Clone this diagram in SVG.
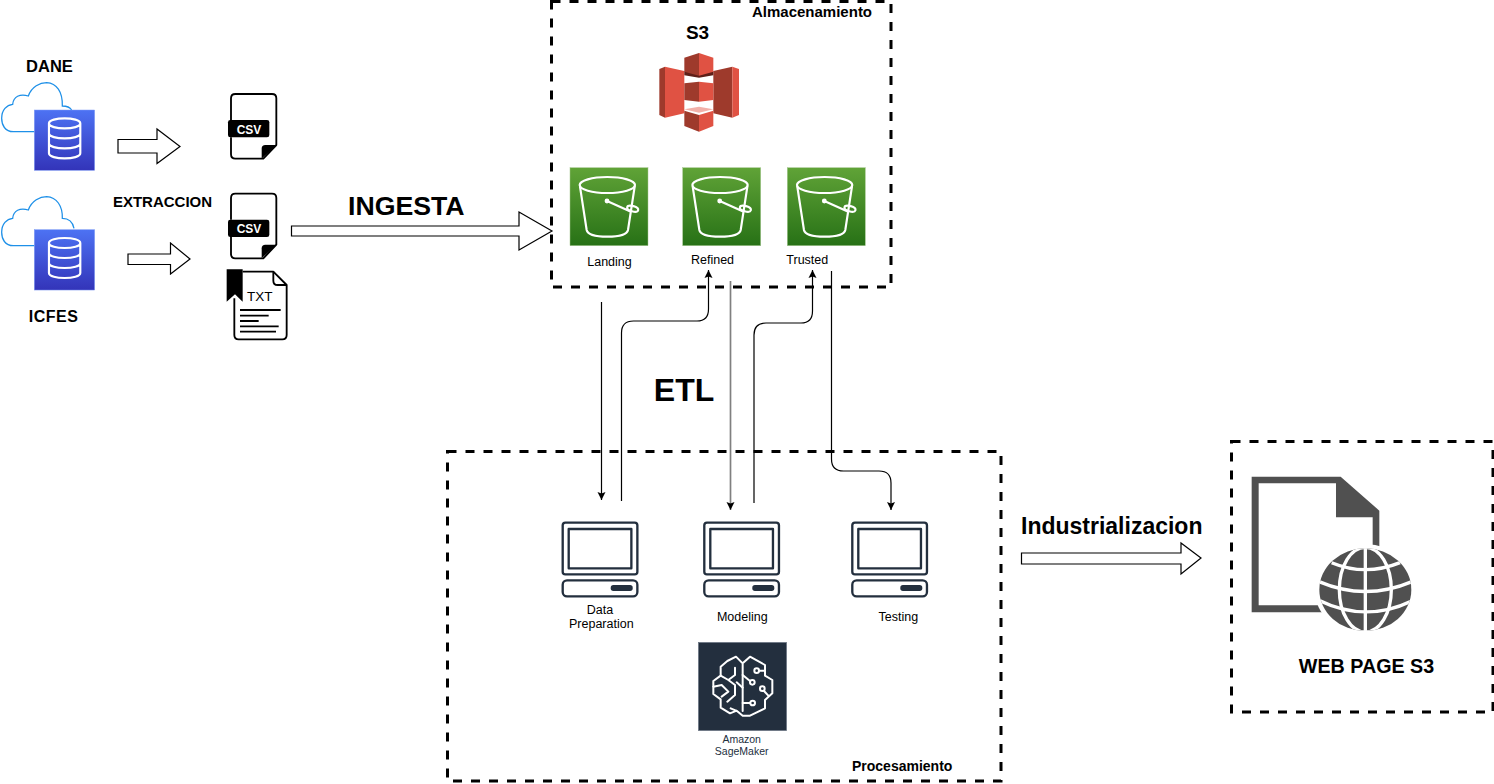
<svg xmlns="http://www.w3.org/2000/svg" width="1494" height="784" viewBox="0 0 1494 784">
<style>
text{font-family:"Liberation Sans",Arial,sans-serif;fill:#000}
.b{font-weight:bold}
.m{text-anchor:middle}
.box{fill:none;stroke:#000;stroke-width:3;stroke-dasharray:9 9}
.block{fill:#fff;stroke:#000;stroke-width:1.2}
.wire{fill:none;stroke:#000;stroke-width:1.2;marker-end:url(#ah)}
.pc{fill:none;stroke:#232F3E;stroke-width:7;stroke-linejoin:round}
.w{fill:none;stroke:#fff;stroke-width:6.500;stroke-linejoin:round;stroke-linecap:round}
.k{fill:none;stroke:#000;stroke-width:5.500;stroke-linejoin:round}
.br{fill:none;stroke:#fff;stroke-width:6;stroke-linejoin:round;stroke-linecap:round}
.cl{fill:none;stroke:#1E90E8;stroke-width:3.800}
.d{fill:#9E3A2C}.l{fill:#E05243}
.gl{fill:none;stroke:#fff;stroke-width:10}
.lbl{font-size:12.500px}
</style>
<defs>
<linearGradient id="gb" x1="0" y1="0" x2="0" y2="1"><stop offset="0" stop-color="#4D72F3"/><stop offset="1" stop-color="#3334B9"/></linearGradient>
<linearGradient id="gg" x1="0" y1="0" x2="0" y2="1"><stop offset="0" stop-color="#60A337"/><stop offset="1" stop-color="#277116"/></linearGradient>
<marker id="ah" markerUnits="userSpaceOnUse" markerWidth="10" markerHeight="10" viewBox="0 0 10 10" refX="8" refY="5" orient="auto"><path d="M0 1L8 5L0 9L1.500 5Z" fill="#000"/></marker>
<g id="tile-db" transform="scale(.33333)">
<rect x="0" y="0" width="181" height="181" fill="url(#gb)" stroke="#7f9cf5" stroke-width="1.500"/>
<path class="w" d="M44 40V130C44 150 138 150 138 130V40M44 40C44 20 138 20 138 40C138 60 44 60 44 40ZM44 70C44 90 138 90 138 70M44 100C44 120 138 120 138 100"/>
</g>
<g id="csv" transform="scale(.33333)">
<path class="k" d="M693 210V145Q693 132 706 132H816Q829 132 829 145V285L790 326H706Q693 326 693 313V262"/>
<path d="M785 326V296Q785 285 796 285H829Z" fill="#000"/>
<rect x="684" y="210" width="124" height="52" rx="7" fill="#000"/>
</g>
<g id="bucket" transform="scale(.33333) translate(-60,-503)">
<rect x="60" y="503" width="234" height="234" fill="url(#gg)" stroke="#a5c78f" stroke-width="1.500"/>
<g class="w"><ellipse cx="172" cy="555" rx="83" ry="24"/>
<path d="M90 560L110 690Q114 710 172 710Q230 710 234 690L254 560M171 603L238 633"/>
<ellipse cx="248" cy="626" rx="17" ry="8" transform="rotate(15 248 626)"/>
<circle cx="171" cy="603" r="4"/></g>
</g>
<g id="pc" transform="scale(.33333) translate(-65,-65)">
<rect class="pc" x="68" y="68" width="224" height="155" rx="8"/>
<rect class="pc" x="86" y="87" width="188" height="118"/>
<rect class="pc" x="68" y="241" width="224" height="48" rx="13"/>
<rect x="212" y="255" width="66" height="18" rx="8" fill="#232F3E"/>
</g>
<clipPath id="gc"><ellipse cx="436" cy="449" rx="138" ry="124"/></clipPath>
</defs>

<g id="connectors">
<path class="wire" d="M601.500 302V500"/>
<path class="wire" d="M621.500 501V333Q621.500 321 633.500 321H697Q708.500 321 708.500 309V270"/>
<path class="wire" style="stroke:#808080;stroke-width:1.700" d="M730.500 281V510"/>
<path class="wire" d="M754 503V335Q754 323 766 323H801Q812.500 323 812.500 311V270"/>
<path class="wire" d="M831.500 271V459Q831.500 471 843.500 471H879Q891 471 891 483V510"/>
<path class="block" d="M118 139.500H157V129L180 146.500L157 163.500V153H118Z"/>
<path class="block" d="M128 254H170.500V243L190 259L170.500 274V264.500H128Z"/>
<path class="block" d="M291.500 226H519V212L552 231L519 250V236H291.500Z"/>
<path class="block" d="M1021.500 553H1181V543L1201 558L1181 574V564H1021.500Z"/>
</g>

<g id="almacenamiento"><rect class="box" x="551.500" y="1.500" width="339.500" height="285.500"/>
<text class="b" x="752" y="17" font-size="15">Almacenamiento</text></g>
<g id="procesamiento"><rect class="box" x="447.500" y="451.500" width="553.500" height="329.500"/>
<text class="b" x="852" y="771" font-size="14">Procesamiento</text></g>
<g id="web-box"><rect class="box" x="1231.500" y="441.500" width="261.500" height="270.500"/></g>

<g id="dane">
<text class="b m" x="49.500" y="72" font-size="16.500">DANE</text>
<g transform="translate(0,50) scale(.33333)"><path class="cl" d="M103 245H40C15 245 5 225 5 205C5 180 20 165 38 163C40 140 60 130 85 138C95 110 120 98 140 98C170 100 188 125 187 168C200 168 210 172 215 180"/></g>
<use href="#tile-db" x="34.300" y="110"/>
</g>
<g id="icfes">
<text class="b m" x="53.500" y="321.500" font-size="16" letter-spacing=".5">ICFES</text>
<g transform="translate(0,50) scale(.33333)"><path class="cl" d="M103 587H40C15 587 5 567 5 547C5 522 20 507 38 505C40 482 60 472 85 480C95 452 120 440 140 440C170 442 188 467 187 505C205 505 218 515 222 535"/></g>
<use href="#tile-db" x="34.300" y="229.700"/>
</g>
<g id="extraccion"><text class="b m" x="162.500" y="206.500" font-size="15">EXTRACCION</text></g>
<g id="csv-1"><use href="#csv" x="0" y="50"/><text class="b m" style="fill:#fff" x="249" y="133.500" font-size="12">CSV</text></g>
<g id="csv-2"><use href="#csv" x="0" y="149.700"/><text class="b m" style="fill:#fff" x="249" y="233" font-size="12">CSV</text></g>
<g id="txt">
<g transform="scale(.33333) translate(0,150)">
<path class="k" d="M728 665H820L860 705V855Q860 868 847 868H716Q703 868 703 855V745"/>
<path class="k" d="M820 665V692Q820 705 833 705H860"/>
<path d="M680 658H728V755L705 733L680 755Z" fill="#000"/>
<path class="k" d="M720 780H842M720 797H806M720 813H776M720 829H836M720 845H828"/>
</g>
<text x="247" y="301" font-size="13.500">TXT</text>
</g>
<g id="ingesta"><text class="b" x="348" y="215" font-size="26.700">INGESTA</text></g>
<g id="etl"><text class="b m" x="684" y="401" font-size="32">ETL</text></g>
<g id="industrializacion"><text class="b" x="1021" y="534" font-size="23">Industrializacion</text></g>

<g id="s3">
<text class="b m" x="697.500" y="39" font-size="19">S3</text>
<g transform="translate(550,0) scale(.33333)">
<path class="d" d="M328 207L345 200V353L328 345Z"/><path class="l" d="M345 200L403 213V340L345 353Z"/>
<path class="d" d="M490 213L547 200V353L490 340Z"/><path class="l" d="M547 200L567 207V345L547 353Z"/>
<path fill="#5E1F18" d="M403 214H490V226L447 233L403 226Z"/>
<path class="d" d="M403 173L447 159V227L403 215Z"/><path class="l" d="M447 159L490 173V215L447 227Z"/>
<path class="d" d="M403 250L447 245V305L403 300Z"/><path class="l" d="M447 245L490 250V300L447 305Z"/>
<path fill="#F2B0A9" d="M403 328L447 320L490 328L447 338Z"/>
<path class="d" d="M403 332L447 345V395L403 378Z"/><path class="l" d="M447 345L490 332V378L447 395Z"/>
</g>
</g>
<g id="landing"><use href="#bucket" x="570" y="167.700"/><text class="lbl m" x="609.500" y="265.700">Landing</text></g>
<g id="refined"><use href="#bucket" x="682.700" y="167.700"/><text class="lbl m" x="712.500" y="263.500">Refined</text></g>
<g id="trusted"><use href="#bucket" x="787.300" y="167.700"/><text class="lbl m" x="807.300" y="263.500">Trusted</text></g>

<g id="data-preparation"><use href="#pc" x="561.700" y="521.700"/><text class="lbl m" x="600" y="614">Data</text><text class="lbl m" x="601.300" y="628">Preparation</text></g>
<g id="modeling"><use href="#pc" x="703.300" y="521.700"/><text class="lbl m" x="742.300" y="620.700">Modeling</text></g>
<g id="testing"><use href="#pc" x="851.300" y="521.700"/><text class="lbl m" x="898.300" y="620.700">Testing</text></g>

<g id="sagemaker">
<rect x="698.500" y="642.500" width="88" height="88" fill="#232F3E" stroke="#6b7683" stroke-width=".8"/>
<g transform="translate(700,645) scale(.33333)">
<path class="br" d="M128 55L108 35L82 48L62 65V92L40 108V147L62 163V188L90 205L110 197L128 212L150 212L195 190V165L217 145V105L195 92V60L150 35L128 55V198"/>
<path class="br" d="M62 92L85 105L105 90V68M40 125L65 120L85 140L65 155M85 105L105 120V150L82 170M110 112L128 128M92 190L108 197M128 90L150 108M128 174H150M178 77H195M192 138L205 152"/>
<circle class="br" cx="170" cy="77" r="7"/><circle class="br" cx="157" cy="112" r="7"/><circle class="br" cx="187" cy="131" r="7"/><circle class="br" cx="158" cy="174" r="7"/>
</g>
<text class="m" x="741.700" y="742.700" font-size="10.500" style="fill:#232F3E">Amazon</text>
<text class="m" x="741.700" y="754.700" font-size="10.500" style="fill:#232F3E">SageMaker</text>
</g>

<g id="web-page">
<g transform="translate(1220,440) scale(.33333)">
<path fill="#505050" fill-rule="evenodd" d="M95 110H362L478 212V517H95ZM116 130V496H458V232H348V130Z"/>
<ellipse cx="436" cy="449" rx="152" ry="136" fill="#fff"/>
<ellipse cx="436" cy="449" rx="138" ry="124" fill="#505050"/>
<g clip-path="url(#gc)">
<path class="gl" d="M436 310V600"/>
<ellipse class="gl" cx="436" cy="449" rx="78" ry="127"/>
<path class="gl" d="M335 368Q436 410 540 368M295 424Q436 485 578 424M295 480Q436 550 575 483"/>
</g>
</g>
<text class="b m" x="1366.500" y="673" font-size="19.700">WEB PAGE S3</text>
</g>
</svg>
